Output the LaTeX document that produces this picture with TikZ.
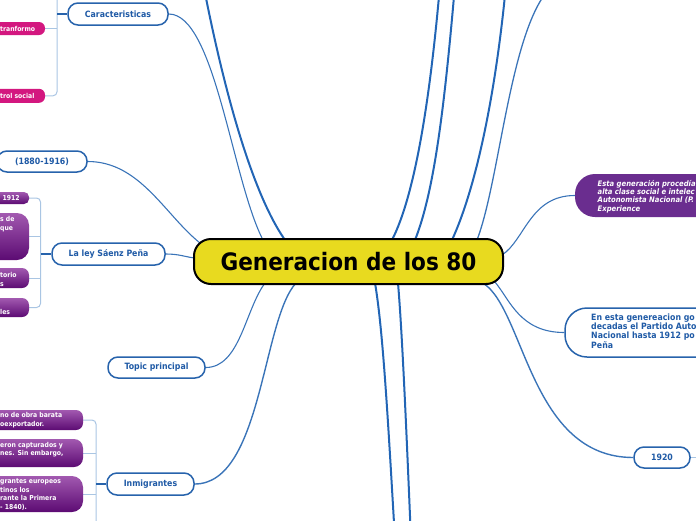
\documentclass[tikz,border=0pt]{standalone}
\usepackage{fontspec}
\setmainfont{DejaVu Sans}[FakeStretch=0.9]
\usetikzlibrary{calc}
\definecolor{nodeblue}{HTML}{2763AC}
\definecolor{txtblue}{HTML}{1F5AA6}
\definecolor{lineblue}{HTML}{2265B5}
\definecolor{thinblue}{HTML}{3A74B8}
\definecolor{bracketblue}{HTML}{A9C5E3}
\definecolor{pinkbox}{HTML}{D3177F}
\definecolor{purpletop}{HTML}{A259B0}
\definecolor{purplebot}{HTML}{5C0B73}
\definecolor{purpleflat}{HTML}{6A2D8F}
\definecolor{centralfill}{HTML}{E8DA1F}
\pgfdeclarelayer{bg}
\pgfsetlayers{bg,main}
\begin{document}
\begin{tikzpicture}[x=1pt,y=-1pt,
  topic/.style={draw=nodeblue, line width=1.5pt, fill=white, rounded corners=10pt,
    minimum height=21pt, inner sep=0pt, text=txtblue, font=\bfseries\fontsize{8.7}{10}\selectfont},
  central/.style={draw=black, line width=2pt, fill=centralfill, rounded corners=17pt,
    minimum width=309pt, minimum height=45pt, inner sep=0pt, font=\bfseries\fontsize{24}{28}\selectfont},
  pinkb/.style={fill=pinkbox, rounded corners=6pt, inner sep=0pt, minimum width=100pt},
  purpb/.style={top color=purpletop, bottom color=purplebot, rounded corners=7pt, inner sep=0pt},
  frag/.style={text=white, font=\bfseries\fontsize{6.8}{8.4}\selectfont, align=left, anchor=west, inner sep=0pt},
  thickconn/.style={draw=lineblue, line width=2pt},
  thinconn/.style={draw=thinblue, line width=1.1pt},
  bracket/.style={draw=bracketblue, line width=1pt, rounded corners=4pt},
  linkseg/.style={draw=nodeblue, line width=1.5pt}
]
\clip (0,0) rectangle (696,520);
\useasboundingbox (0,0) rectangle (696,520);

% central
\node[central] (c) at (348.5,261.5) {Generacion de los 80};

% topics
\node[topic, minimum width=100pt, minimum height=22pt] (car) at (118,14) {Caracteristicas};
\node[topic, minimum width=90pt] (dates) at (42,161.5) {(1880-1916)};
\node[topic, minimum width=113pt, minimum height=22pt] (ley) at (108.5,254) {La ley Sáenz Peña};
\node[topic, minimum width=97pt] (tp) at (156.5,367.5) {Topic principal};
\node[topic, minimum width=87pt, minimum height=22pt] (inm) at (150.5,484) {Inmigrantes};
\node[topic, minimum width=56pt] (y1920) at (662,457.5) {1920};

% right boxes
\node[fill=purpleflat, rounded corners=20pt, minimum width=250pt, minimum height=43pt, inner sep=0pt] (pr) at (700,195.5) {};
\node[anchor=west, align=left, text=white, inner sep=0pt,
  font=\bfseries\itshape\fontsize{7.6}{8.3}\selectfont] (prt) at (597.5,196.4)
  {Esta generación procedía\\alta clase social e intelec\\Autonomista Nacional (P.\\Experience};
\node[draw=nodeblue, line width=1.5pt, fill=white, rounded corners=22pt, minimum width=260pt, minimum height=49pt, inner sep=0pt] (ee) at (695,332.5) {};
\node[anchor=west, align=left, text=txtblue, inner sep=0pt,
  font=\bfseries\fontsize{8.7}{9.2}\selectfont] (eet) at (591,331)
  {En esta genereacion go\\decadas el Partido Auto\\Nacional hasta 1912 po\\Peña};

% pink boxes (Caracteristicas)
\node[pinkb, minimum height=13pt] (pk1) at (-5,28.5) {};
\node[pinkb, minimum height=14pt] (pk2) at (-5,95.8) {};
\node[frag] (pk1t) at (0,28.5) {tranformo};
\node[frag] (pk2t) at (0,96.3) {trol social};

% purple boxes (La ley)
\node[purpb, minimum width=100pt, minimum height=12pt, rounded corners=5pt] (p1912) at (-21,198) {};
\node[purpb, minimum width=100pt, minimum height=47pt, rounded corners=12pt] (pbig) at (-21,236.5) {};
\node[purpb, minimum width=100pt, minimum height=20pt] (ptor) at (-21,278) {};
\node[purpb, minimum width=100pt, minimum height=19pt] (ples) at (-21,307.5) {};
\node[frag] (p1912t) at (2.5,198.3) {1912};
\node[frag] (pbigt) at (0,224) {s de\\que};
\node[frag] (ptort) at (0,279.5) {torio\\s};
\node[frag] (plest) at (0,311.5) {les};

% purple boxes (Inmigrantes)
\node[purpb, minimum width=120pt, minimum height=20pt] (i1) at (23,420) {};
\node[purpb, minimum width=120pt, minimum height=28pt, rounded corners=9pt] (i2) at (23,453) {};
\node[purpb, minimum width=120pt, minimum height=36pt, rounded corners=11pt] (i3) at (23,494) {};
\node[frag] (i1t) at (0,420) {no de obra barata\\oexportador.};
\node[frag] (i2t) at (0,449.5) {eron capturados y\\nes. Sin embargo,};
\node[frag] (i3t) at (0,494.5) {grantes europeos\\tinos los\\rante la Primera\\- 1840).};

% free ends
\coordinate (bk1) at (57,-5);
\coordinate (bk2) at (40.5,250);
\coordinate (bk3) at (96,530);
\coordinate (rt) at (700,457.5);
\coordinate (tl) at (204,-12);
\coordinate (tA) at (440,-15);
\coordinate (tB) at (455,-15);
\coordinate (tC) at (506,-15);
\coordinate (tD) at (550,-12);
\coordinate (bb1) at (395,540);
\coordinate (bb2) at (411,540);

\begin{pgfonlayer}{bg}
% brackets
\draw[bracket] (bk1) |- (pk2.east);
\draw[bracket] (pk1.east) -- (pk1.east -| bk1);
\draw[linkseg] (bk1 |- car.west) -- (car.west);

\draw[bracket] (p1912.east) -| (bk2) |- (ples.east);
\draw[bracket] (pbig.east) -- (pbig.east -| bk2);
\draw[bracket] (ptor.east) -- (ptor.east -| bk2);
\draw[linkseg] (bk2 |- ley.west) -- (ley.west);

\draw[bracket] (i1.east) -| (bk3);
\draw[bracket] (i2.east) -- (i2.east -| bk3);
\draw[bracket] (i3.east) -- (i3.east -| bk3);
\draw[linkseg] (bk3 |- inm.west) -- (inm.west);

\draw[bracket] (y1920.east) -- (rt);

% connectors left
\draw[thinconn] (car.east) .. controls (215,14) and (232,180) .. ([xshift=-85.5pt,yshift=-2pt]c.north);
\draw[thickconn] (tl) .. controls (222,80) and (250,190) .. ([xshift=-63.5pt,yshift=-2pt]c.north);
\draw[thinconn] (dates.east) .. controls (140,161.5) and (165,215) .. ([xshift=7pt,yshift=-5pt]c.north west);
\draw[thinconn] (ley.east) .. controls (180,254) and (185,257) .. ([xshift=2pt,yshift=3.5pt]c.west);
\draw[thinconn] (tp.east) .. controls (240,367.5) and (245,310) .. ([xshift=-83.5pt,yshift=2pt]c.south);
\draw[thinconn, line width=1.4pt] (inm.east) .. controls (262,484) and (262,320) .. ([xshift=-52.5pt,yshift=2pt]c.south);

% bottom
\draw[thickconn] ([xshift=26.5pt,yshift=2pt]c.south) .. controls (383,330) and (388,420) .. (bb1);
\draw[thickconn] ([xshift=49.5pt,yshift=2pt]c.south) .. controls (402,330) and (406,420) .. (bb2);

% top right
\draw[thickconn] ([xshift=43.5pt,yshift=-2pt]c.north) .. controls (415,195) and (430,100) .. (tA);
\draw[thickconn] ([xshift=66.5pt,yshift=-2pt]c.north) .. controls (435,190) and (445,100) .. (tB);
\draw[thickconn] ([xshift=103.5pt,yshift=-2pt]c.north) .. controls (475,190) and (495,100) .. (tC);
\draw[thinconn, line width=1.3pt] ([xshift=128.5pt,yshift=-2pt]c.north) .. controls (500,180) and (510,30) .. (tD);

% right
\draw[thinconn] ([xshift=-2pt,yshift=6.5pt]c.east) .. controls (525,240) and (530,195.5) .. (pr.west);
\draw[thinconn] ([xshift=-9pt,yshift=3pt]c.south east) .. controls (510,300) and (520,332.5) .. (ee.west);
\draw[thinconn, line width=1.4pt] ([xshift=-21pt,yshift=2pt]c.south east) .. controls (525,310) and (530,457.5) .. (y1920.west);
\end{pgfonlayer}
\end{tikzpicture}
\end{document}
